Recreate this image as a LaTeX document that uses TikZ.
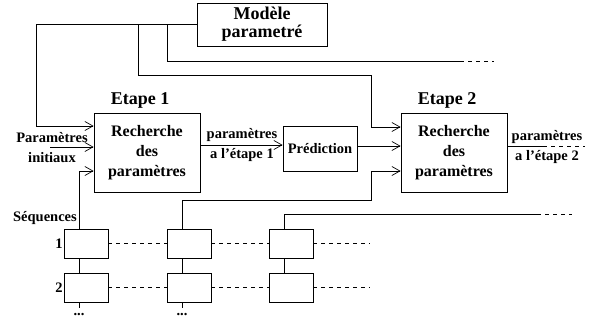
\documentclass[tikz,border=0pt]{standalone}
\usepackage{fontspec}
\setmainfont{Liberation Serif}
\usetikzlibrary{arrows.meta}

\begin{document}
\begin{tikzpicture}[x=1pt, y=-1pt,
  bigbox/.style={rectangle, draw, line width=0.8pt, minimum width=106pt, minimum height=79pt, align=center, font=\bfseries\fontsize{16}{20}\selectfont},
  predbox/.style={rectangle, draw, line width=0.8pt, minimum width=74pt, minimum height=45pt, font=\bfseries\fontsize{14.5}{17}\selectfont},
  seqbox/.style={rectangle, draw, line width=0.8pt, minimum width=44pt, minimum height=29pt},
  title/.style={font=\bfseries\fontsize{18}{18}\selectfont, inner sep=0pt},
  lab/.style={align=center, inner sep=0pt, font=\bfseries\fontsize{14.5}{20}\selectfont},
  line/.style={line width=0.8pt},
  wire/.style={line width=0.8pt, -{Straight Barb[length=8pt, width=9pt, line width=0.7pt]}},
  dline/.style={line width=0.8pt, dash pattern=on 4pt off 4pt}
]
\useasboundingbox (0,0) rectangle (589,321);

% Parametrised model
\node[rectangle, draw, line width=0.8pt, minimum width=130pt, minimum height=43pt, align=center,
  font=\bfseries\fontsize{18}{18}\selectfont] (modele) at (262,24.5) {Modèle\\parametré};

% Stage 1
\node[title] (etape1) at (140,100) {Etape 1};
\node[bigbox] (rech1) at (147,152.5) {Recherche\\des\\paramètres};

% Prediction
\node[predbox] (pred) at (320,148.5) {Prédiction};

% Stage 2
\node[title] (etape2) at (447,100) {Etape 2};
\node[bigbox] (rech2) at (454,152.5) {Recherche\\des\\paramètres};

% Labels
\node[lab] (init) at (52,148) {Paramètres\\initiaux};
\node[lab] (par1) at (242,145) {paramètres\\a l’étape 1};
\node[lab] (par2) at (547,147) {paramètres\\a l’étape 2};
\node[lab] (seq) at (45,218) {Séquences};
\node[lab] (num1) at (59,243.5) {1};
\node[lab] (num2) at (59,287.5) {2};

% Sequences
\node[seqbox] (s11) at (86,243.5) {};
\node[seqbox] (s12) at (189,243.5) {};
\node[seqbox] (s13) at (291,243.5) {};
\node[seqbox] (s21) at (86,287.5) {};
\node[seqbox] (s22) at (189,287.5) {};
\node[seqbox] (s23) at (291,287.5) {};
\node[lab] (dots1) at (79,315) {...};
\node[lab] (dots2) at (182,315) {...};

% Corners
\coordinate (k1) at (36,126);
\coordinate (k2) at (138,75);
\coordinate (k3) at (371,127);
\coordinate (k4) at (167,61);
\coordinate (k5) at (460,61);
\coordinate (k6) at (494,61);
\coordinate (k7) at (50,147);
\coordinate (k8) at (250,145);
\coordinate (k9) at (79,171);
\coordinate (k10) at (182,200);
\coordinate (k11) at (371,171);
\coordinate (k12) at (284,214);
\coordinate (k13) at (537,214);
\coordinate (k14) at (572,214);
\coordinate (k15) at (370,243.5);
\coordinate (k16) at (370,287.5);
\coordinate (k17) at (543,146);
\coordinate (k18) at (585,146);

% Model to the stages
\draw[wire] (modele.west) -| (k1) -- (rech1.west |- k1);
\draw[wire] (k2 |- modele.west) -- (k2) -| (k3) -- (rech2.west |- k3);
\draw[line] (k4 |- modele.west) -- (k4) -- (k5);
\draw[dline] (k5) -- (k6);

% Stage chain
\draw[wire] (k7) -- (rech1.west |- k7);
\draw[wire] (rech1.east |- k8) -- (pred.west |- k8);
\draw[wire] (pred.east |- k17) -- (rech2.west |- k17);
\draw[line] (rech2.east |- k17) -- (k17);
\draw[dline] (k17) -- (k18);

% Sequences to the stages
\draw[wire] ([xshift=-7pt]s11.north) -- (k9) -- (rech1.west |- k9);
\draw[wire] ([xshift=-7pt]s12.north) -- (k10) -| (k11) -- (rech2.west |- k11);
\draw[line] ([xshift=-7pt]s13.north) -- (k12) -- (k13);
\draw[dline] (k13) -- (k14);

% Between the rows
\draw[line] ([xshift=-7pt]s11.south) -- ([xshift=-7pt]s21.north);
\draw[line] ([xshift=-7pt]s12.south) -- ([xshift=-7pt]s22.north);
\draw[line] ([xshift=-7pt]s13.south) -- ([xshift=-7pt]s23.north);
\draw[line] ([xshift=-7pt]s21.south) -- ++(0,6);
\draw[line] ([xshift=-7pt]s22.south) -- ++(0,6);

% Dashed links
\draw[dline] (s11.east) -- (s12.west);
\draw[dline] (s12.east) -- (s13.west);
\draw[dline] (s13.east) -- (k15);
\draw[dline] (s21.east) -- (s22.west);
\draw[dline] (s22.east) -- (s23.west);
\draw[dline] (s23.east) -- (k16);

\end{tikzpicture}
\end{document}
